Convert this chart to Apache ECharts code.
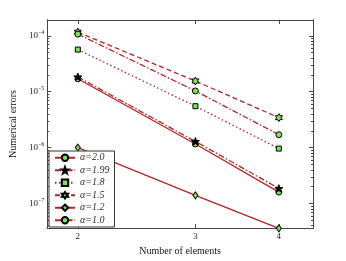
<!DOCTYPE html>
<html><head><meta charset="utf-8">
<script src="https://cdn.jsdelivr.net/npm/echarts@6/dist/echarts.min.js"></script>
<style>html,body{margin:0;padding:0;background:#fff}#c{width:346px;height:261px}</style>
</head><body><div id="c"></div>
<script>
const xValues = [2, 3, 4];
const xTicks = [2, 3, 4];
const yMajorTicks = [1e-7, 1e-6, 1e-5, 1e-4];
const seriesNames = ['α=2.0', 'α=1.99', 'α=1.8', 'α=1.5', 'α=1.2', 'α=1.0'];
const a20  = [1.70e-5, 1.16e-6, 1.60e-7];
const a199 = [1.84e-5, 1.29e-6, 1.86e-7];
const a18  = [5.66e-5, 5.50e-6, 9.60e-7];
const a15  = [1.16e-4, 1.55e-5, 3.43e-6];
const a12  = [1.00e-6, 1.40e-7, 3.60e-8];
const a10  = [1.07e-4, 1.03e-5, 1.70e-6];

const X_MIN = 1.8, X_MAX = 4.5;
const Y_MIN = Math.pow(10, -7.44), Y_MAX = Math.pow(10, -3.718);
const minorTicks = [];
for (let e = -8; e <= -4; e++) for (let k = 2; k <= 9; k++) {
  const v = k * Math.pow(10, e);
  if (v > Y_MIN && v < Y_MAX) minorTicks.push(v);
}
const RED = '#b22222', GREEN = '#7ee05a';
const STAR = 'path://M0,-10 L2.35,-3.24 9.51,-3.09 3.8,1.24 5.88,8.09 0,4 -5.88,8.09 -3.8,1.24 -9.51,-3.09 -2.35,-3.24Z';
const HEX = 'path://M0,-10 L2.89,-5 L8.66,-5 L5.77,0 L8.66,5 L2.89,5 L0,10 L-2.89,5 L-8.66,5 L-5.77,0 L-8.66,-5 L-2.89,-5Z';
const FONT = 'Liberation Serif';

function pts(arr) { return xValues.map((x, i) => [x, arr[i]]); }
function mk(name, arr, lineType, symbol, size, fill) {
  return {
    name, type: 'line', data: pts(arr), clip: false,
    symbol, symbolSize: size, symbolKeepAspect: true,
    lineStyle: { color: RED, width: 1.3, type: lineType },
    itemStyle: { color: fill, borderColor: '#000', borderWidth: 1 },
    emphasis: { disabled: true }, z: 3
  };
}
function fmtY(v) {
  const e = Math.round(Math.log10(v));
  return '{b|10}{s|' + String(e).replace('-', '−') + '}';
}
const axisLineStyle = { show: true, lineStyle: { color: '#444', width: 1 } };
function yAx(pos, ticks, len, labels) {
  return {
    type: 'log', logBase: 10, min: Y_MIN, max: Y_MAX, position: pos,
    axisLine: axisLineStyle,
    axisTick: { show: true, inside: true, length: len, customValues: ticks, lineStyle: { color: '#444' } },
    axisLabel: labels ? {
      show: true, customValues: ticks, formatter: fmtY, margin: 3,
      rich: { b: { fontFamily: FONT, fontSize: 9, color: '#222' },
              s: { fontFamily: FONT, fontSize: 6, color: '#222', padding: [0, 0, 7, 0] } }
    } : { show: false },
    splitLine: { show: false },
    name: labels ? 'Numerical errors' : '', nameLocation: 'middle', nameGap: 22,
    nameTextStyle: { fontFamily: FONT, fontSize: 10, color: '#111' }
  };
}
function xAx(pos, labels) {
  return {
    type: 'log', logBase: 10, min: X_MIN, max: X_MAX, position: pos,
    axisLine: axisLineStyle,
    axisTick: { show: true, inside: true, length: 4, customValues: xTicks, lineStyle: { color: '#444' } },
    axisLabel: labels ? { show: true, customValues: xTicks, fontFamily: FONT, fontSize: 9, color: '#222', margin: 4 } : { show: false },
    splitLine: { show: false },
    name: labels ? 'Number of elements' : '', nameLocation: 'middle', nameGap: 14,
    nameTextStyle: { fontFamily: FONT, fontSize: 10, color: '#111' }
  };
}

const chart = echarts.init(document.getElementById('c'), null, { renderer: 'canvas' });
chart.setOption({
  animation: false,
  backgroundColor: '#fff',
  grid: { left: 45, right: 33, top: 20, bottom: 30 },
  xAxis: [xAx('bottom', true), xAx('top', false)],
  yAxis: [yAx('left', yMajorTicks, 4, true), yAx('left', minorTicks, 2, false),
          yAx('right', yMajorTicks, 4, false), yAx('right', minorTicks, 2, false)],
  legend: {
    orient: 'vertical', left: 49, top: 151,
    data: seriesNames,
    itemWidth: 20, itemHeight: 8, itemGap: 1,
    padding: [1, 5, 1, 5],
    backgroundColor: '#fff', borderColor: '#333', borderWidth: 1,
    textStyle: { fontFamily: FONT, fontStyle: 'italic', fontSize: 10, lineHeight: 11.5, color: '#3a2a24' },
    selectedMode: false
  },
  series: [
    mk(seriesNames[0], a20, 'solid', 'circle', 6, GREEN),
    mk(seriesNames[1], a199, [6, 2, 1.5, 2], STAR, 8, '#000'),
    mk(seriesNames[2], a18, [1.5, 2.5], 'rect', 5, GREEN),
    mk(seriesNames[3], a15, [5, 3], HEX, 8, GREEN),
    mk(seriesNames[4], a12, 'solid', 'diamond', [5, 7], GREEN),
    mk(seriesNames[5], a10, [6, 2, 1.5, 2], 'circle', 6, GREEN)
  ]
});
</script></body></html>
